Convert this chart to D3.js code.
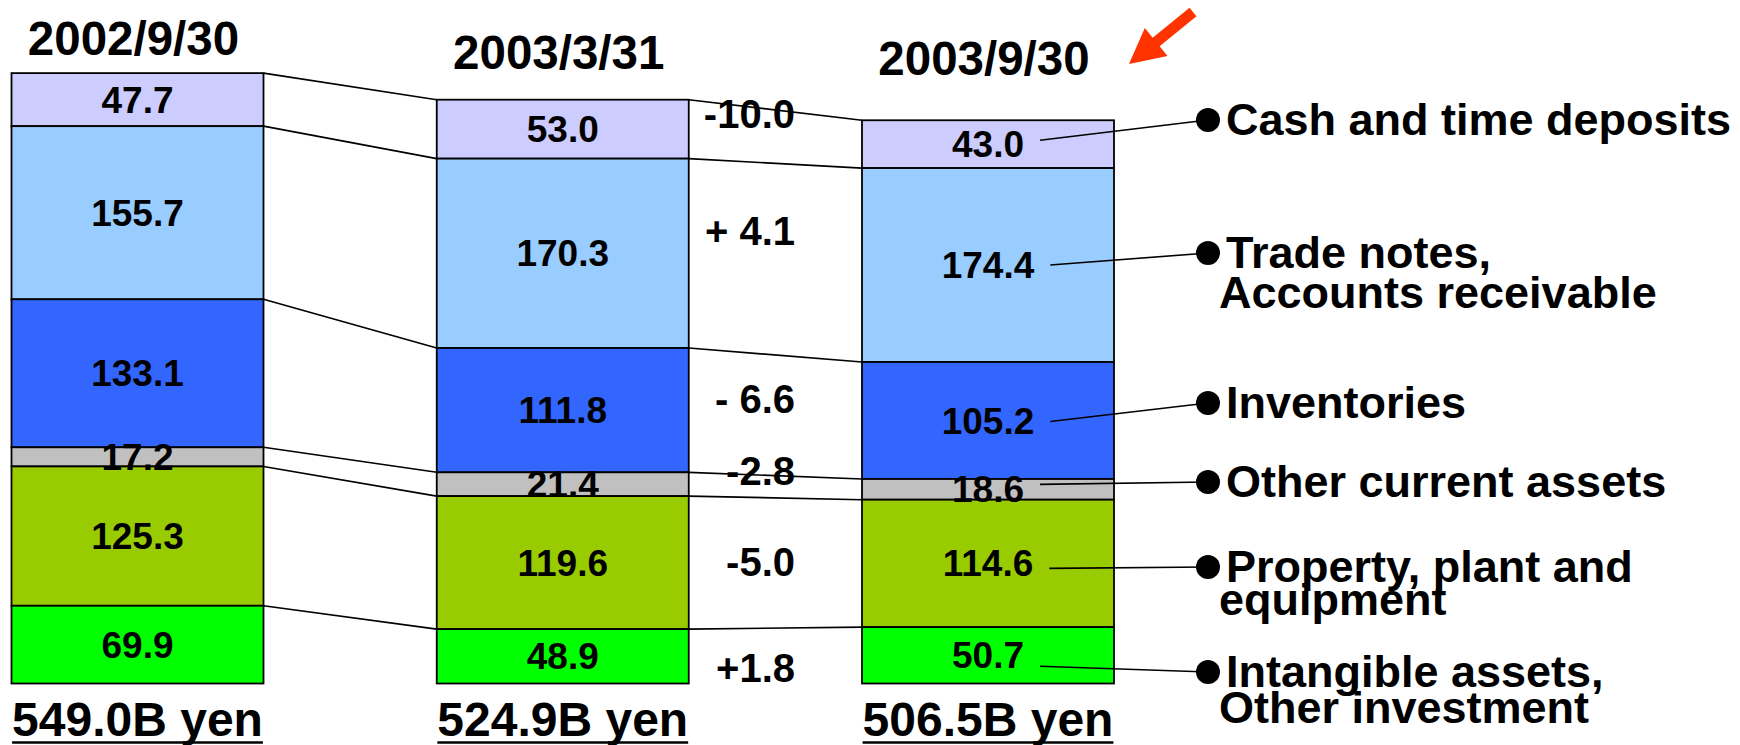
<!DOCTYPE html>
<html>
<head>
<meta charset="utf-8">
<script src="https://cdn.jsdelivr.net/npm/d3@7"></script>
<style>
  html, body { margin: 0; padding: 0; background: #fff; }
  svg { display: block; }
  text { font-family: "Liberation Sans", Arial, sans-serif; font-weight: bold; fill: #000; }
</style>
</head>
<body>
<svg id="chart" width="1740" height="745"></svg>
<script>
// Balance-sheet asset composition at three closing dates (billions of yen)
const periods = ["2002/9/30", "2003/3/31", "2003/9/30"];
const categories = [
  "Cash and time deposits",
  "Trade notes, Accounts receivable",
  "Inventories",
  "Other current assets",
  "Property, plant and equipment",
  "Intangible assets, Other investment"
];
const legendLines = [
  ["Cash and time deposits"],
  ["Trade notes,", "Accounts receivable"],
  ["Inventories"],
  ["Other current assets"],
  ["Property, plant and", "equipment"],
  ["Intangible assets,", "Other investment"]
];
const values2002Sep = [47.7, 155.7, 133.1, 17.2, 125.3, 69.9];
const values2003Mar = [53.0, 170.3, 111.8, 21.4, 119.6, 48.9];
const values2003Sep = [43.0, 174.4, 105.2, 18.6, 114.6, 50.7];
const totals = [549.0, 524.9, 506.5];
const changeLabels = ["-10.0", "+ 4.1", "- 6.6", "-2.8", "-5.0", "+1.8"];

// ---- layout & style ----
const colors = ["#CCCCFF", "#99CCFF", "#3366FF", "#C0C0C0", "#99CC00", "#00FF00"];
const titleBaseline = [55, 69, 75];
const changeNudge = [-14, -21, -10, -12, 0, 13];
const calloutNudge = [-4, 0, 1, -5, 5, 11];
const legendDotY = [120, 253, 403, 482, 567, 672];
const legendLineGap = [0, 40, 0, 0, 33, 36];

const svg = d3.select("#chart");
const fmt = d3.format(".1f");

const rows = periods.map((p, i) => {
  const vals = [values2002Sep, values2003Mar, values2003Sep][i];
  const r = { period: p };
  categories.forEach((c, k) => r[c] = vals[k]);
  return r;
});

const stack = d3.stack().keys(categories).order(d3.stackOrderReverse);
const series = stack(rows);   // series[k][i] = [y0, y1]

const x = d3.scaleBand()
  .domain(periods)
  .range([11.5, 1114])
  .paddingInner(0.4074)
  .paddingOuter(0);

const y = d3.scaleLinear()
  .domain([0, totals[0]])
  .range([683.5, 73]);

const bw = x.bandwidth();

// connector lines joining the top edge of each segment across periods
const connectors = svg.append("g");
categories.forEach((c, k) => {
  for (let i = 0; i < periods.length - 1; i++) {
    connectors.append("line")
      .attr("x1", x(periods[i]) + bw)
      .attr("y1", y(series[k][i][1]))
      .attr("x2", x(periods[i + 1]))
      .attr("y2", y(series[k][i + 1][1]))
      .attr("stroke", "#000")
      .attr("stroke-width", 1.6);
  }
});

// stacked bars
const bars = svg.append("g");
series.forEach((s, k) => {
  bars.selectAll(null)
    .data(s)
    .join("rect")
    .attr("x", d => x(d.data.period))
    .attr("y", d => y(d[1]))
    .attr("width", bw)
    .attr("height", d => y(d[0]) - y(d[1]))
    .attr("fill", colors[k])
    .attr("stroke", "#000")
    .attr("stroke-width", 1.8);
});

// segment value labels
const labels = svg.append("g");
const lastLabelNodes = [];
series.forEach((s, k) => {
  s.forEach((d, i) => {
    const t = labels.append("text")
      .attr("x", x(d.data.period) + bw / 2)
      .attr("y", (y(d[0]) + y(d[1])) / 2 + 13)
      .attr("text-anchor", "middle")
      .attr("font-size", 37)
      .text(fmt(d[1] - d[0]));
    if (i === periods.length - 1) lastLabelNodes[k] = t;
  });
});

// period titles
svg.append("g").selectAll("text")
  .data(periods)
  .join("text")
  .attr("x", d => x(d) + bw / 2 - 4)
  .attr("y", (d, i) => titleBaseline[i])
  .attr("text-anchor", "middle")
  .attr("font-size", 47.5)
  .text(d => d);

// totals with underline
const totalG = svg.append("g");
periods.forEach((p, i) => {
  const t = totalG.append("text")
    .attr("x", x(p) + bw / 2)
    .attr("y", 736)
    .attr("text-anchor", "middle")
    .attr("font-size", 48)
    .text(fmt(totals[i]) + "B yen");
  const bb = t.node().getBBox();
  totalG.append("line")
    .attr("x1", bb.x).attr("x2", bb.x + bb.width)
    .attr("y1", 742.5).attr("y2", 742.5)
    .attr("stroke", "#000").attr("stroke-width", 2.5);
});

// change between the last two periods
const changeG = svg.append("g");
categories.forEach((c, k) => {
  const d = series[k][1];
  changeG.append("text")
    .attr("x", 795)
    .attr("y", (y(d[0]) + y(d[1])) / 2 + 13 + changeNudge[k])
    .attr("text-anchor", "end")
    .attr("font-size", 40)
    .text(changeLabels[k]);
});

// callouts from latest-period labels to the category legend
const legendG = svg.append("g");
categories.forEach((c, k) => {
  const d = series[k][periods.length - 1];
  const node = lastLabelNodes[k].node();
  const w = node.getComputedTextLength();
  const cx = x(periods[periods.length - 1]) + bw / 2;
  const sy = (y(d[0]) + y(d[1])) / 2 + calloutNudge[k];
  legendG.append("line")
    .attr("x1", cx + w / 2 + 16).attr("y1", sy)
    .attr("x2", 1208).attr("y2", legendDotY[k])
    .attr("stroke", "#000").attr("stroke-width", 1.6);
  legendG.append("circle")
    .attr("cx", 1208).attr("cy", legendDotY[k]).attr("r", 12)
    .attr("fill", "#000");
  legendLines[k].forEach((line, j) => {
    legendG.append("text")
      .attr("x", j === 0 ? 1226 : 1219)
      .attr("y", legendDotY[k] + 15 + j * legendLineGap[k])
      .attr("font-size", 45)
      .text(line);
  });
});

// highlight arrow pointing at the latest period
(function () {
  const tail = [1193, 12], tip = [1129, 64];
  const dx = tip[0] - tail[0], dy = tip[1] - tail[1];
  const len = Math.hypot(dx, dy);
  const ux = dx / len, uy = dy / len, nx = -uy, ny = ux;
  const headLen = 35, headHalf = 18, shaftHalf = 5.5;
  const bx = tip[0] - ux * headLen, by = tip[1] - uy * headLen;
  const pts = [
    [tail[0] + nx * shaftHalf, tail[1] + ny * shaftHalf],
    [bx + nx * shaftHalf, by + ny * shaftHalf],
    [bx + nx * headHalf, by + ny * headHalf],
    tip,
    [bx - nx * headHalf, by - ny * headHalf],
    [bx - nx * shaftHalf, by - ny * shaftHalf],
    [tail[0] - nx * shaftHalf, tail[1] - ny * shaftHalf]
  ];
  svg.append("path")
    .attr("d", "M" + pts.map(p => p.join(",")).join("L") + "Z")
    .attr("fill", "#FF3300");
})();
</script>
</body>
</html>
